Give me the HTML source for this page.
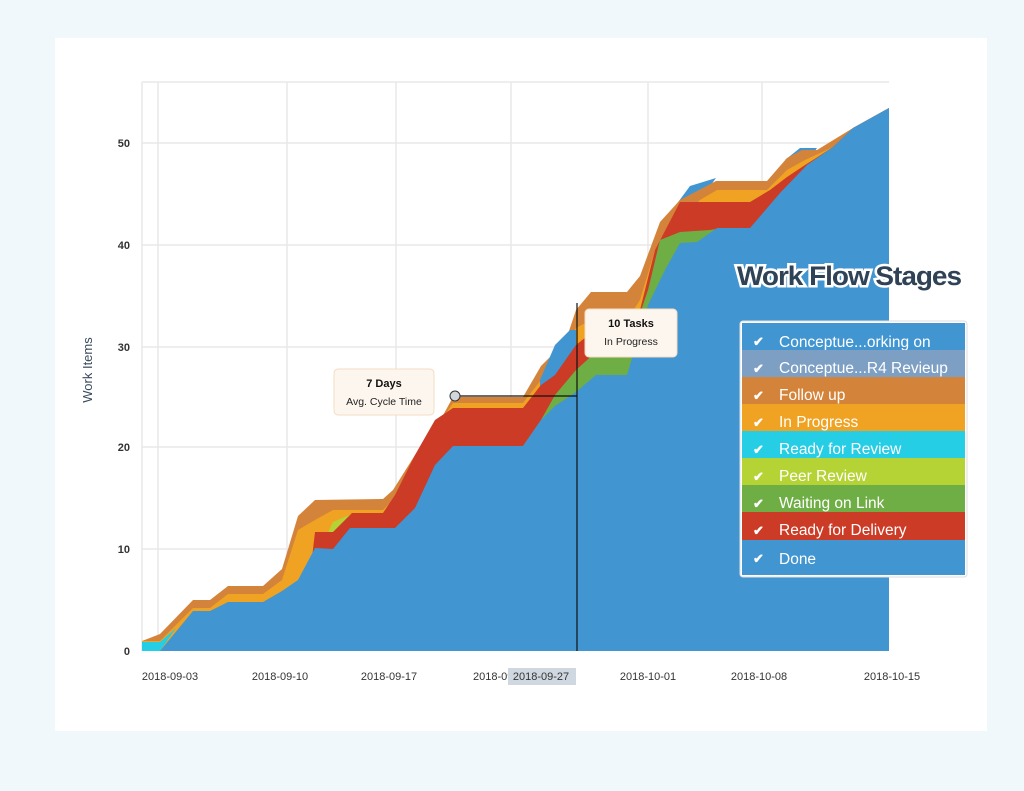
<!DOCTYPE html>
<html><head><style>
body{margin:0;background:#f1f8fc;font-family:"Liberation Sans",sans-serif;}
</style></head><body>
<svg width="1024" height="791" xmlns="http://www.w3.org/2000/svg" style="display:block">
<rect x="0" y="0" width="1024" height="791" fill="#f1f8fc"/>
<rect x="55" y="38" width="932" height="693" fill="#fff"/>
<g stroke="#e8e8e8" stroke-width="1.5">
<line x1="142" y1="82" x2="889" y2="82"/>
<line x1="142" y1="143" x2="889" y2="143"/>
<line x1="142" y1="245" x2="889" y2="245"/>
<line x1="142" y1="347" x2="889" y2="347"/>
<line x1="142" y1="447" x2="889" y2="447"/>
<line x1="142" y1="549" x2="889" y2="549"/>
<line x1="142" y1="82" x2="142" y2="651"/>
<line x1="158" y1="82" x2="158" y2="651"/>
<line x1="287" y1="82" x2="287" y2="651"/>
<line x1="396" y1="82" x2="396" y2="651"/>
<line x1="511" y1="82" x2="511" y2="651"/>
<line x1="648" y1="82" x2="648" y2="651"/>
<line x1="762" y1="82" x2="762" y2="651"/>
</g>
<polygon fill="#4195d1" points="676,205 690,186 716,178 700,200"/>
<polygon fill="#4195d1" points="785,160 800,148 817,148 805,165"/>
<polygon fill="#d4843a" points="142,641 160,634 193,600 210,600 228,586 263,586 282,569 298,516 315,500 383,499 393,490 415,455 435,430 453,397 523,397 541,366 555,352 569,331 576,310 591,292 627,292 640,276 660,222 680,200 716,181 767,181 787,158 802,150 817,150 853,128 889,108 889,651 142,651"/>
<polygon fill="#f0a323" points="142,641 160,641 193,608 210,608 228,594 263,594 282,580 298,530 315,520 333,510 383,510 393,500 415,463 435,430 453,403 523,403 541,380 555,366 576,328 591,320 627,320 640,300 655,250 665,232 700,200 717,190 767,190 787,170 805,160 833,147 853,128 889,108 889,651 142,651"/>
<polygon fill="#4195d1" points="540,380 555,345 570,330 576,330 576,400 540,400"/>
<polygon fill="#25cde5" points="142,642 160,642 176,628 160,651 142,651"/>
<polygon fill="#b5d334" points="290,600 305,570 315,560 333,522 352,514 390,514 400,500 400,651 290,651"/>
<polygon fill="#cc3b26" points="290,651 290,595 310,575 315,532 333,532 352,513 383,513 395,495 415,455 435,420 453,408 523,408 541,385 555,375 576,345 591,333 627,333 640,310 655,250 680,202 750,202 770,190 787,177 805,165 813,160 833,147 853,128 889,108 889,651"/>
<polygon fill="#6fae45" points="523,446 541,420 555,395 576,370 596,352 627,352 648,290 660,240 680,232 710,230 722,228 722,651 523,651"/>
<polygon fill="#4195d1" points="160,651 193,611 210,611 228,602 263,602 282,591 298,580 315,548 333,549 350,528 395,528 415,508 435,465 453,446 523,446 541,420 555,406 576,392 596,375 627,375 648,305 665,270 680,243 697,242 717,228 750,228 780,193 807,165 833,147 853,128 889,108 889,651"/>
<g font-size="11" fill="#333" text-anchor="end" font-weight="bold">
<text x="130" y="147">50</text><text x="130" y="249">40</text><text x="130" y="351">30</text>
<text x="130" y="451">20</text><text x="130" y="553">10</text><text x="130" y="655">0</text>
</g>
<text x="92" y="370" font-size="13" fill="#3a4a5c" text-anchor="middle" transform="rotate(-90 92 370)">Work Items</text>
<g font-size="11" fill="#333" text-anchor="middle">
<text x="170" y="680">2018-09-03</text><text x="280" y="680">2018-09-10</text><text x="389" y="680">2018-09-17</text>
<text x="495" y="680">2018-09-</text>
<rect x="508" y="668" width="68" height="17" fill="#cfd8e0"/>
<text x="541" y="680">2018-09-27</text>
<text x="648" y="680">2018-10-01</text><text x="759" y="680">2018-10-08</text><text x="892" y="680">2018-10-15</text>
</g>
<line x1="577" y1="303" x2="577" y2="651" stroke="#111" stroke-width="1.2"/>
<line x1="455" y1="396" x2="577" y2="396" stroke="#111" stroke-width="1.2"/>
<circle cx="455" cy="396" r="5" fill="#d0d6de" stroke="#333" stroke-width="1"/>
<rect x="334" y="369" width="100" height="46" rx="4" fill="#fdf6ee" stroke="#f3dcc4"/>
<text x="384" y="387" font-size="11" font-weight="bold" text-anchor="middle" fill="#111">7 Days</text>
<text x="384" y="405" font-size="10.5" text-anchor="middle" fill="#222">Avg. Cycle Time</text>
<rect x="585" y="309" width="92" height="48" rx="4" fill="#fdf6ee" stroke="#f3dcc4"/>
<text x="631" y="327" font-size="11" font-weight="bold" text-anchor="middle" fill="#111">10 Tasks</text>
<text x="631" y="345" font-size="10.5" text-anchor="middle" fill="#222">In Progress</text>
<text x="737" y="285" font-size="27" font-weight="bold" fill="#2f4256" stroke="#fff" stroke-width="5" paint-order="stroke" letter-spacing="-1" textLength="224" lengthAdjust="spacingAndGlyphs">Work Flow Stages</text>
<rect x="740" y="321" width="227" height="256" rx="3" fill="#fff" stroke="#ddd"/>
<g font-size="15.5" fill="#fff">
<rect x="742" y="323" width="223" height="27" fill="#4195d1"/><text x="779" y="347">Conceptue...orking on</text>
<rect x="742" y="350" width="223" height="27" fill="#7d9fc4"/><text x="779" y="373">Conceptue...R4 Revieup</text>
<rect x="742" y="377" width="223" height="27" fill="#d4843a"/><text x="779" y="400">Follow up</text>
<rect x="742" y="404" width="223" height="27" fill="#f0a323"/><text x="779" y="427">In Progress</text>
<rect x="742" y="431" width="223" height="27" fill="#25cde5"/><text x="779" y="454">Ready for Review</text>
<rect x="742" y="458" width="223" height="27" fill="#b5d334"/><text x="779" y="481">Peer Review</text>
<rect x="742" y="485" width="223" height="27" fill="#6fae45"/><text x="779" y="508">Waiting on Link</text>
<rect x="742" y="512" width="223" height="28" fill="#cc3b26"/><text x="779" y="535">Ready for Delivery</text>
<rect x="742" y="540" width="223" height="35" fill="#4195d1"/><text x="779" y="564">Done</text>
<g font-size="13" font-weight="bold">
<text x="753" y="346">✔</text><text x="753" y="373">✔</text><text x="753" y="400">✔</text><text x="753" y="427">✔</text>
<text x="753" y="454">✔</text><text x="753" y="481">✔</text><text x="753" y="508">✔</text><text x="753" y="535">✔</text><text x="753" y="563">✔</text>
</g>
</g>
</svg>
</body></html>
